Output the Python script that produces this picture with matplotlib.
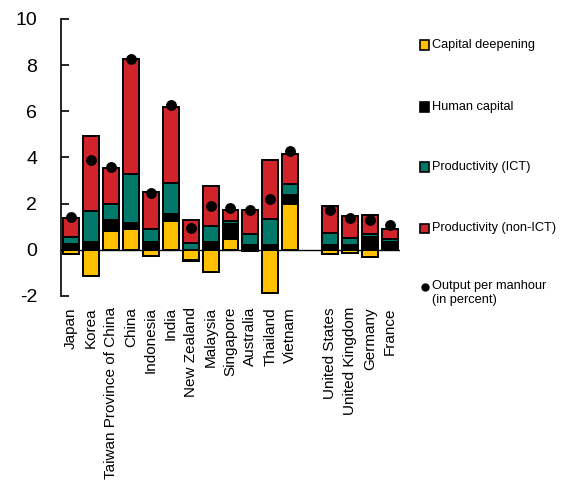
import numpy as np
import matplotlib
matplotlib.use("Agg")
import matplotlib.pyplot as plt
from matplotlib.patches import Rectangle
from matplotlib.lines import Line2D

plt.rcParams['font.family'] = ['Liberation Sans', 'DejaVu Sans']

categories = ["Japan", "Korea", "Taiwan Province of China", "China", "Indonesia",
              "India", "New Zealand", "Malaysia", "Singapore", "Australia",
              "Thailand", "Vietnam",
              "United States", "United Kingdom", "Germany", "France"]
groups = ["Asia"] * 12 + ["West"] * 4

capital_deepening = [-0.2, -1.15, 0.82, 0.89, -0.25, 1.25, -0.45, -0.95, 0.47, -0.05,
                     -1.85, 1.97, -0.2, -0.12, -0.3, 0.1]
human_capital = [0.25, 0.36, 0.48, 0.26, 0.36, 0.31, -0.05, 0.36, 0.67, 0.19,
                 0.23, 0.40, 0.22, 0.20, 0.55, 0.25]
productivity_ict = [0.30, 1.33, 0.70, 2.14, 0.56, 1.35, 0.30, 0.66, 0.11, 0.48,
                    1.12, 0.47, 0.49, 0.30, 0.15, 0.12]
productivity_non_ict = [0.83, 3.24, 1.55, 4.98, 1.60, 3.26, 1.00, 1.76, 0.47, 1.05,
                        2.54, 1.31, 1.17, 0.96, 0.80, 0.42]
output_per_manhour = [1.40, 3.90, 3.58, 8.27, 2.45, 6.27, 0.95, 1.90, 1.83, 1.73,
                      2.18, 4.26, 1.72, 1.37, 1.28, 1.07]

series_names = ["Capital deepening", "Human capital", "Productivity (ICT)",
                "Productivity (non-ICT)"]
output_name = "Output per manhour\n(in percent)"
yticks = [-2, 0, 2, 4, 6, 8, 10]

colors = ["#FFC000", "#000000", "#00786A", "#D1232A"]

# x positions with a one-slot gap between groups
n = len(categories)
x = np.zeros(n)
pos = 0
for i in range(n):
    if i > 0 and groups[i] != groups[i - 1]:
        pos += 1
    x[i] = pos
    pos += 1

fig = plt.figure(figsize=(5.63, 4.83), dpi=100)
ax = fig.add_axes([0.1083, 0.3872, 0.6022, 0.5735])

series = [capital_deepening, human_capital, productivity_ict, productivity_non_ict]
pos_base = np.zeros(n)
neg_base = np.zeros(n)
for vals, col in zip(series, colors):
    v = np.array(vals, dtype=float)
    pv = np.where(v > 0, v, 0)
    nv = np.where(v < 0, v, 0)
    ax.bar(x, pv, 0.8, bottom=pos_base, color=col, edgecolor="black", linewidth=1.4, zorder=2)
    ax.bar(x, nv, 0.8, bottom=neg_base, color=col, edgecolor="black", linewidth=1.4, zorder=2)
    pos_base += pv
    neg_base += nv

ax.axhline(0, color="black", linewidth=1.0, zorder=1)
ax.plot(x, output_per_manhour, "o", color="black", markersize=6.8, zorder=3)

ax.set_xlim(-0.5, x[-1] + 0.5)
ax.set_ylim(-2, 10)
ax.set_yticks(yticks)
ax.set_yticklabels([str(t) for t in yticks], fontsize=14)
ax.tick_params(axis="y", direction="in", length=6, width=1.2, pad=17)
ax.set_xticks(x)
ax.set_xticklabels(categories, rotation=90, fontsize=11, va="top", ha="center")
ax.tick_params(axis="x", length=0, pad=8)
for s in ["top", "right", "bottom"]:
    ax.spines[s].set_visible(False)
ax.spines["left"].set_linewidth(1.2)

# legend drawn manually on the right
W, H = 563.0, 483.0
ys = [45, 107, 167, 228]
for name, col, yy in zip(series_names, colors, ys):
    fig.add_artist(Rectangle((420 / W, 1 - (yy + 4.5) / H), 9 / W, 9 / H,
                             facecolor=col, edgecolor="black", linewidth=1.2,
                             transform=fig.transFigure))
    fig.text(432 / W, 1 - yy / H, name, fontsize=9.2, va="center", ha="left")
yo = 287
fig.add_artist(Line2D([424.5 / W], [1 - yo / H], marker="o", color="black",
                      markersize=5, transform=fig.transFigure))
fig.text(432 / W, 1 - (yo - 7.5) / H, output_name, fontsize=9.2, va="top", ha="left",
         linespacing=1.3)

fig.savefig("out.png", dpi=100)
